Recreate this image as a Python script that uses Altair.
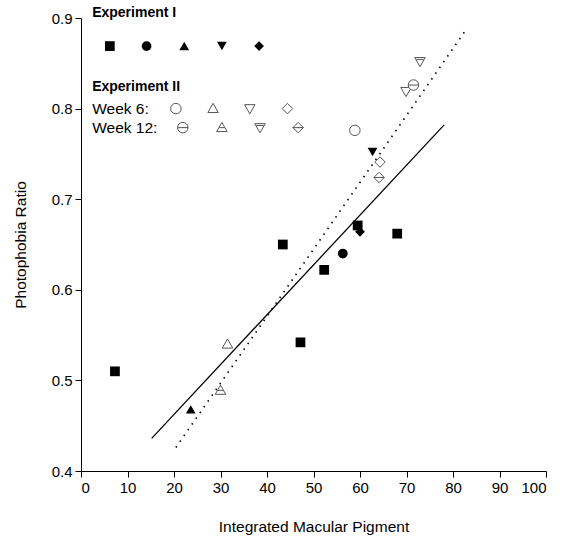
import altair as alt
import pandas as pd

FONT = "Liberation Sans"

# ---- Experiment I (filled) ----
exp1_x = [7.3, 43.4, 52.3, 47.2, 59.5, 68.0, 56.3, 23.6, 62.7, 60.0]
exp1_y = [0.510, 0.650, 0.622, 0.542, 0.671, 0.662, 0.640, 0.468, 0.752, 0.664]
exp1_shape = ["square", "square", "square", "square", "square", "square",
              "circle", "triangle-up", "triangle-down", "diamond"]

# ---- Experiment II (hollow) ----
w6_x = [58.9, 31.5, 69.9, 64.3]
w6_y = [0.776, 0.540, 0.819, 0.741]
w6_shape = ["o", "tu", "td", "d"]

w12_x = [71.5, 30.0, 72.9, 64.1]
w12_y = [0.826, 0.489, 0.852, 0.724]
w12_shape = ["o12", "tu12", "td12", "d12"]

# ---- regression lines ----
solid_x = [15.2, 78.1]
solid_y = [0.436, 0.782]
dotted_x = [20.4, 82.8]
dotted_y = [0.426, 0.887]

# ---- legend ----
leg1_x = [6.2, 14.1, 22.2, 30.3, 38.3]
leg1_y = [0.869] * 5
leg1_shape = ["square", "circle", "triangle-up", "triangle-down", "diamond"]
leg6_x = [20.4, 28.4, 36.3, 44.4]
leg6_y = [0.800] * 4
leg12_x = [21.9, 30.3, 38.5, 46.7]
leg12_y = [0.779] * 4
head_text = ["Experiment I", "Experiment II"]
head_x = [2.4, 2.4]
head_y = [0.905, 0.824]
row_text = ["Week 6:", "Week 12:"]
row_x = [2.4, 2.4]
row_y = [0.800, 0.779]

x_ticks = list(range(0, 101, 10))
y_ticks = [0.4, 0.5, 0.6, 0.7, 0.8, 0.9]

hollow_domain = ["o", "tu", "td", "d", "o12", "tu12", "td12", "d12"]
hollow_range = [
    "M -1 0 A 1 1 0 1 1 1 0 A 1 1 0 1 1 -1 0 Z",
    "M 0 -1 L 1 0.75 L -1 0.75 Z",
    "M -1 -0.75 L 1 -0.75 L 0 1 Z",
    "M 0 -1 L 1 0 L 0 1 L -1 0 Z",
    "M -1 0 A 1 1 0 1 1 1 0 A 1 1 0 1 1 -1 0 Z M -1 0 L 1 0",
    "M 0 -1 L 1 0.75 L -1 0.75 Z M -0.5 0 L 0.5 0",
    "M -1 -0.75 L 1 -0.75 L 0 1 Z M -0.7 -0.4 L 0.7 -0.4",
    "M 0 -1 L 1 0 L 0 1 L -1 0 Z M -1 0 L 1 0",
]
filled_domain = ["square", "circle", "triangle-up", "triangle-down", "diamond"]

xs = alt.Scale(domain=[0, 100], nice=False, zero=False)
ys = alt.Scale(domain=[0.4, 0.9], nice=False, zero=False)

xenc = alt.X("x:Q", scale=xs, axis=alt.Axis(values=x_ticks, title="Integrated Macular Pigment"))
yenc = alt.Y("y:Q", scale=ys, axis=alt.Axis(values=y_ticks, format=".1f", title="Photophobia Ratio"))

filled_df = pd.DataFrame({"x": exp1_x + leg1_x, "y": exp1_y + leg1_y, "s": exp1_shape + leg1_shape})
hollow_df = pd.DataFrame({"x": w6_x + w12_x + leg6_x + leg12_x,
                          "y": w6_y + w12_y + leg6_y + leg12_y,
                          "s": w6_shape + w12_shape + w6_shape + w12_shape})

solid_df = pd.DataFrame({"x": solid_x, "y": solid_y})
dotted_df = pd.DataFrame({"x": dotted_x, "y": dotted_y})
head_df = pd.DataFrame({"x": head_x, "y": head_y, "t": head_text})
row_df = pd.DataFrame({"x": row_x, "y": row_y, "t": row_text})

solid = alt.Chart(solid_df).mark_line(color="black", strokeWidth=1.3).encode(x=xenc, y=yenc)
dotted = alt.Chart(dotted_df).mark_line(color="black", strokeWidth=1.6, strokeDash=[1.5, 5.5]).encode(x=xenc, y=yenc)

filled = alt.Chart(filled_df).mark_point(filled=True, color="black", size=95, opacity=1).encode(
    x=xenc, y=yenc,
    shape=alt.Shape("s:N", scale=alt.Scale(domain=filled_domain, range=filled_domain), legend=None),
)
hollow = alt.Chart(hollow_df).mark_point(filled=True, fill="white", stroke="#555555", strokeWidth=1,
                                        size=110, opacity=1).encode(
    x=xenc, y=yenc,
    shape=alt.Shape("s:N", scale=alt.Scale(domain=hollow_domain, range=hollow_range), legend=None),
)

heads = alt.Chart(head_df).mark_text(align="left", baseline="middle", font=FONT, fontSize=14,
                                     fontWeight="bold", color="black").encode(x=xenc, y=yenc, text="t:N")
rows = alt.Chart(row_df).mark_text(align="left", baseline="middle", font=FONT, fontSize=15.5,
                                   color="black").encode(x=xenc, y=yenc, text="t:N")

chart = alt.layer(solid, dotted, hollow, filled, heads, rows).resolve_scale(
    shape="independent"
).properties(
    width=465, height=453,
    autosize=alt.AutoSizeParams(type="none"),
    padding={"left": 81, "top": 18, "right": 25, "bottom": 76},
).configure_view(stroke=None).configure_axis(
    grid=False, domainColor="black", tickColor="black", labelColor="black", titleColor="black",
    labelFont=FONT, titleFont=FONT, labelFontSize=15, titleFontSize=15.5, titleFontWeight="normal",
    tickSize=6, domainWidth=1, tickWidth=1, labelPadding=3,
).configure_axisX(titlePadding=24).configure_axisY(titlePadding=23)

chart.save("out.html", embed_options={"renderer": "svg", "actions": False})
